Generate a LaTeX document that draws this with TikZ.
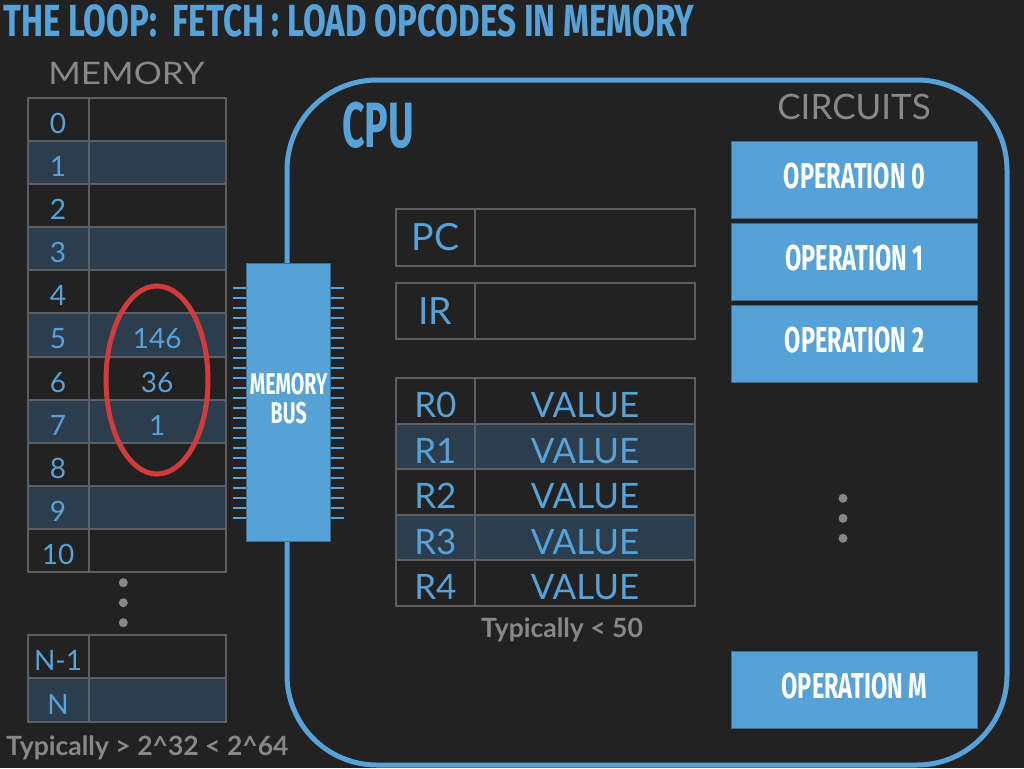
\documentclass[tikz,border=0pt]{standalone}
\usepackage{fontspec}
\setmainfont{Lato}
\newfontfamily\dint{Fira Sans}[FakeStretch=0.735]
\newfontfamily\din{Fira Sans}[FakeStretch=0.655]
\newfontfamily\dinn{Fira Sans}[FakeStretch=0.615]
\newfontfamily\latowide{Lato}[FakeStretch=1.13]
\definecolor{bg}{HTML}{222222}
\definecolor{blu}{HTML}{57A3D9}
\definecolor{shade}{HTML}{2C3E4E}
\definecolor{grid}{HTML}{5C6064}
\definecolor{gry}{HTML}{888888}
\definecolor{redc}{HTML}{D03C3C}
\definecolor{opb}{HTML}{56A1D5}
\definecolor{opd}{HTML}{3B6E92}
\begin{document}
\begin{tikzpicture}[x=1pt,y=-1pt,
  cell/.style={draw=grid, line width=2pt, inner sep=0pt, text=blu, fill=bg},
  memcell/.style={cell, minimum height=43.18pt, text height=28pt, text depth=0pt, font=\fontsize{28}{28}\selectfont},
  regcell/.style={cell, minimum height=45.5pt, text height=33pt, text depth=0pt, font=\fontsize{35}{35}\selectfont},
  boxcell/.style={cell, minimum height=56.4pt, text height=26.9pt, text depth=0pt, font=\fontsize{37.5}{37.5}\selectfont},
  opbox/.style={fill=opb, draw=opd, line width=1pt, minimum width=245.6pt, minimum height=76.6pt, inner sep=0pt, text=white, text height=17pt, text depth=0pt, font=\din\bfseries\fontsize{36}{36}\selectfont},
  dot/.style={circle, fill=gry, inner sep=0pt, minimum size=9pt},
  graylabel/.style={text=gry, inner sep=0pt, font=\fontsize{31}{31}\selectfont},
  note/.style={text=gry, inner sep=0pt, font=\bfseries\fontsize{26.5}{26.5}\selectfont},
  tick/.style={blu, line width=2pt}
]
\useasboundingbox[fill=bg] (0,0) rectangle (1024,768);

% title
\node[anchor=west, inner sep=0pt, text=blu, font=\dint\bfseries\fontsize{45}{45}\selectfont] (title) at (3,20.5) {THE LOOP:\ \ FETCH : LOAD OPCODES IN MEMORY};

% CPU outline
\draw[blu, line width=5pt, rounded corners=90pt] (287,80) rectangle (1007,765);
\node[inner sep=0pt, text=blu, font=\dinn\bfseries\fontsize{64}{64}\selectfont] (cpu) at (378,125) {CPU};

% memory
\node[graylabel, font=\latowide\fontsize{31}{31}\selectfont] (memlabel) at (126.5,73) {MEMORY};
\foreach \i in {0,...,10}{
  \pgfmathsetmacro{\yc}{97.5+43.18*\i+21.59}
  \ifodd\i \def\fc{shade}\else\def\fc{bg}\fi
  \node[memcell, fill=\fc, minimum width=61.2pt] (ma\i) at (58.1,\yc) {\i};
  \node[memcell, fill=\fc, minimum width=137pt] (mv\i) at (157.2,\yc) {};
}
\node[memcell, fill=none, draw=none] (v5) at (mv5) {146};
\node[memcell, fill=none, draw=none] (v6) at (mv6) {36};
\node[memcell, fill=none, draw=none] (v7) at (mv7) {1};
\node[dot] (md1) at (123.3,582.7) {};
\node[dot] (md2) at (123.3,602.7) {};
\node[dot] (md3) at (123.3,622.7) {};
\node[memcell, minimum width=61.2pt] (mna) at (58.1,656.7) {N-1};
\node[memcell, minimum width=137pt] (mnv) at (157.2,656.7) {};
\node[memcell, fill=shade, minimum width=61.2pt] (mNa) at (58.1,700) {N};
\node[memcell, fill=shade, minimum width=137pt] (mNv) at (157.2,700) {};
\node[note, anchor=west] (memnote) at (6,748) {Typically > 2\textasciicircum 32 < 2\textasciicircum 64};

% red circle
\draw[redc, line width=5pt] (157,380) ellipse [x radius=51pt, y radius=94pt];

% memory bus
\node[fill=opb, draw=opd, line width=1pt, minimum width=84pt, minimum height=277.7pt, inner sep=0pt] (bus) at (288.7,402.2) {};
\node[inner sep=0pt, align=center, text=white, font=\din\bfseries\fontsize{30}{29}\selectfont] (bustext) at (288.7,399) {MEMORY\\BUS};
\foreach \k in {0,...,23}{
  \draw[tick] (232.7,287.7+10*\k) -- (bus.west |- 0,287.7+10*\k);
  \draw[tick] (bus.east |- 0,287.7+10*\k) -- (344.3,287.7+10*\k);
}

% PC / IR
\node[boxcell, minimum width=79.3pt] (pcl) at (435.4,237.5) {PC};
\node[boxcell, minimum width=220pt] (pcv) at (585,237.5) {};
\node[boxcell, minimum width=79.3pt] (irl) at (435.4,311) {IR};
\node[boxcell, minimum width=220pt] (irv) at (585,311) {};

% registers
\foreach \i in {0,...,4}{
  \pgfmathsetmacro{\yc}{378.3+45.5*\i+22.75}
  \ifodd\i \def\fc{shade}\else\def\fc{bg}\fi
  \node[regcell, fill=\fc, minimum width=79.3pt] (ra\i) at (435.4,\yc) {R\i};
  \node[regcell, fill=\fc, minimum width=220pt] (rv\i) at (585,\yc) {VALUE};
}
\node[note] (regnote) at (562,630) {Typically < 50};

% circuits
\node[graylabel, font=\fontsize{35}{35}\selectfont] (circ) at (854,107) {CIRCUITS};
\node[opbox] (op0) at (854.5,180) {OPERATION 0};
\node[opbox] (op1) at (854.5,262) {OPERATION 1};
\node[opbox] (op2) at (854.5,344) {OPERATION 2};
\node[dot] (cd1) at (843,498.3) {};
\node[dot] (cd2) at (843,518.3) {};
\node[dot] (cd3) at (843,538.3) {};
\node[opbox] (opM) at (854.5,690) {OPERATION M};
\end{tikzpicture}
\end{document}
